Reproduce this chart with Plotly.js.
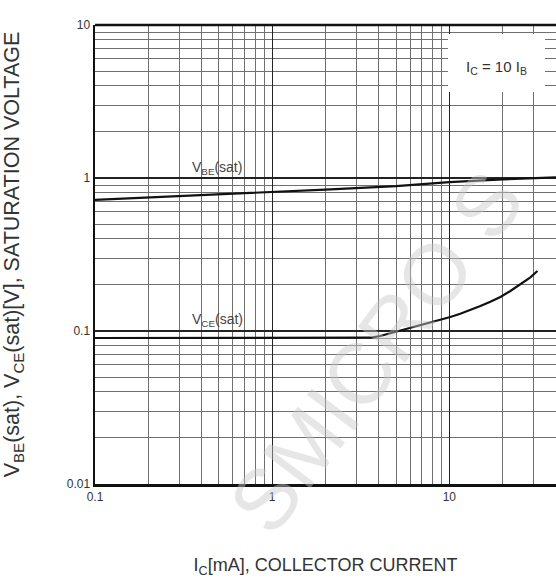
<!DOCTYPE html>
<html>
<head>
<meta charset="utf-8">
<script src="https://cdn.plot.ly/plotly-3.0.1.min.js"></script>
<style>html,body{margin:0;padding:0;background:#fff;}</style>
</head>
<body>
<div id="chart" style="width:556px;height:581px;"></div>
<script>
// Collector current Ic [mA]
const vbeX = [0.1, 0.2, 0.5, 1, 1.43, 2, 5, 10, 20, 30, 40];
const vbeY = [0.72, 0.745, 0.78, 0.81, 0.822, 0.84, 0.885, 0.94, 0.98, 1.0, 1.01];
const vceX = [0.1, 1, 3.3, 3.58, 4.07, 4.64, 5.29, 6.02, 6.86, 7.81, 8.9, 10.13, 11.53, 13.14, 14.97, 17.04, 19.42, 22.11, 25.18, 28.68, 31.42];
const vceY = [0.09, 0.09, 0.09, 0.0904, 0.0927, 0.0966, 0.1011, 0.1051, 0.1094, 0.1133, 0.118, 0.1235, 0.1298, 0.1372, 0.1457, 0.1554, 0.1668, 0.1826, 0.2019, 0.2244, 0.2467];
const xTickVals = [0.1, 1, 10];
const xTickText = ["0.1", "1", "10"];
const yTickVals = [0.01, 0.1, 1, 10];
const yTickText = ["0.01", "0.1", "1", "10"];
const watermark = "SMICRO S";

function minorVals(lo, hi) {
  const v = [];
  for (let d = lo; d < hi; d++) {
    for (let m = 2; m <= 9; m++) v.push(m * Math.pow(10, d));
  }
  return v;
}

const traces = [
  {x: vbeX, y: vbeY, mode: 'lines', line: {color: '#111', width: 2.2}, hoverinfo: 'skip'},
  {x: vceX, y: vceY, mode: 'lines', line: {color: '#111', width: 2.2}, hoverinfo: 'skip'}
];

const fontFam = '"Liberation Sans", Arial, sans-serif';

// watermark letters placed one by one along a diagonal
const wmSize = 86;
const adv = {S: 0.667, M: 0.833, I: 0.278, C: 0.722, R: 0.722, O: 0.778, ' ': 0.278};
const plotL = 95, plotT = 25, plotW = 461, plotH = 459;
const wmCx = 376, wmCy = 352, ang = 53 * Math.PI / 180;
let total = 0; for (const ch of watermark) total += adv[ch] * wmSize;
const wmAnn = [];
let acc = 0;
for (const ch of watermark) {
  const w = adv[ch] * wmSize;
  const c = acc + w / 2 - total / 2;
  acc += w;
  if (ch === ' ') continue;
  const px = wmCx + c * Math.cos(ang), py = wmCy - c * Math.sin(ang);
  wmAnn.push({xref: 'paper', yref: 'paper', x: (px - plotL) / plotW, y: 1 - (py - plotT) / plotH,
    xanchor: 'center', yanchor: 'middle', text: ch, showarrow: false, textangle: -53,
    font: {family: fontFam, size: wmSize, color: 'rgba(200,200,200,0.45)'}});
}

const layout = {
  width: 556, height: 581,
  margin: {l: 95, r: 0, t: 25, b: 97},
  paper_bgcolor: '#fff', plot_bgcolor: '#fff',
  showlegend: false,
  xaxis: {
    type: 'log', range: [-1, Math.log10(40)],
    tickmode: 'array', tickvals: xTickVals, ticktext: xTickText,
    showgrid: true, gridcolor: '#222', gridwidth: 1.3,
    minor: {tickmode: 'array', tickvals: minorVals(-1, 2), showgrid: true, gridcolor: '#707070', gridwidth: 1, ticks: ''},
    showline: true, linecolor: '#111', linewidth: 2.5, zeroline: false,
    ticks: '', tickfont: {family: fontFam, size: 12, color: '#333'},
    title: {text: 'I<sub>C</sub>[mA], COLLECTOR CURRENT', font: {family: fontFam, size: 18, color: '#333'}, standoff: 56}
  },
  yaxis: {
    type: 'log', range: [-2, 1],
    tickmode: 'array', tickvals: yTickVals, ticktext: yTickText,
    showgrid: true, gridcolor: '#222', gridwidth: 1.3,
    minor: {tickmode: 'array', tickvals: minorVals(-2, 1), showgrid: true, gridcolor: '#707070', gridwidth: 1, ticks: ''},
    showline: true, linecolor: '#111', linewidth: 2.5, zeroline: false,
    ticks: '', tickfont: {family: fontFam, size: 12, color: '#333'},
    title: {text: 'V<sub>BE</sub>(sat), V<sub>CE</sub>(sat)[V], SATURATION VOLTAGE', font: {family: fontFam, size: 21.5, color: '#333'}, standoff: 47}
  },
  shapes: [
    {type: 'line', xref: 'paper', yref: 'paper', x0: 0, x1: 1, y0: 1, y1: 1, line: {color: '#111', width: 2.5}},
    {type: 'rect', xref: 'paper', yref: 'paper', x0: 353/461, x1: 450/461, y0: 1 - 67/459, y1: 1 - 9/459, fillcolor: '#fff', line: {width: 0}, layer: 'above'}
  ],
  annotations: [
    {xref: 'paper', yref: 'paper', x: 401/461, y: 1 - 42/459, xanchor: 'center', yanchor: 'middle', text: 'I<sub>C</sub> = 10 I<sub>B</sub>', showarrow: false, font: {family: fontFam, size: 15, color: '#333'}},
    {x: Math.log10(0.489), y: Math.log10(1.16), text: 'V<sub>BE</sub>(sat)', showarrow: false, font: {family: fontFam, size: 14, color: '#444'}},
    {x: Math.log10(0.489), y: Math.log10(0.118), text: 'V<sub>CE</sub>(sat)', showarrow: false, font: {family: fontFam, size: 14, color: '#444'}}
  ].concat(wmAnn)
};

Plotly.newPlot('chart', traces, layout, {staticPlot: true, displayModeBar: false});
</script>
</body>
</html>
